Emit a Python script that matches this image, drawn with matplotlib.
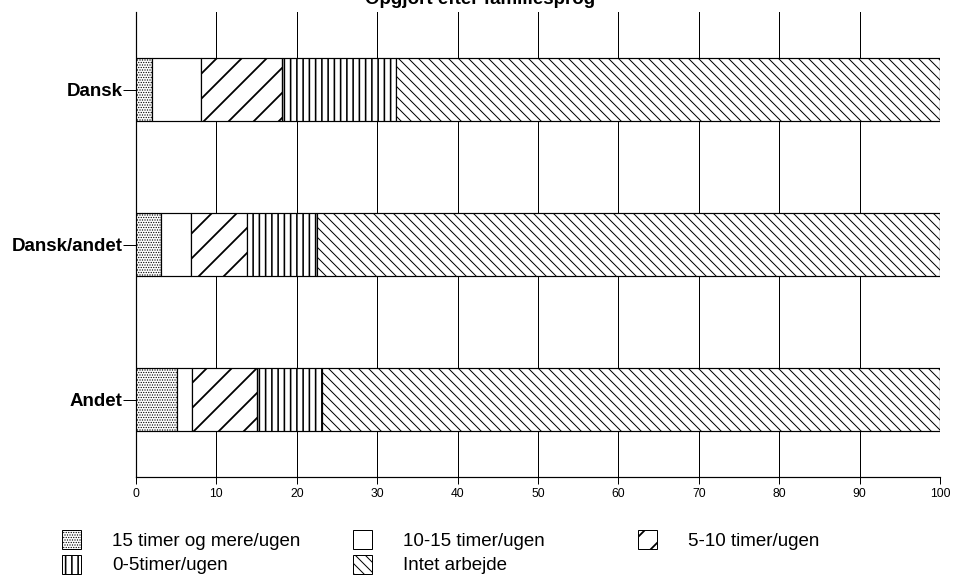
import matplotlib
matplotlib.use("Agg")
import matplotlib.pyplot as plt
from matplotlib.patches import Rectangle
import numpy as np

plt.rcParams['font.family'] = ['Liberation Sans', 'DejaVu Sans']

categories = ["Dansk", "Dansk/andet", "Andet"]
series_labels = ["15 timer og mere/ugen", "10-15 timer/ugen", "5-10 timer/ugen",
                 "0-5timer/ugen", "Intet arbejde"]
v_15plus = [2.0, 3.1, 5.1]
v_10_15 = [6.1, 3.8, 1.9]
v_5_10 = [10.1, 6.9, 8.1]
v_0_5 = [14.2, 8.7, 8.0]
v_none = [67.6, 77.5, 76.9]
values = [v_15plus, v_10_15, v_5_10, v_0_5, v_none]
hatches = ["..........", "", "//", "||||", "\\" * 5]
xticks = [0, 10, 20, 30, 40, 50, 60, 70, 80, 90, 100]
title = "Opgjort efter familiesprog"

DPI = 150
W, H = 953, 584
fig = plt.figure(figsize=(W / DPI, H / DPI), dpi=DPI)
ax = fig.add_axes([136 / W, 1 - 477 / H, (940 - 136) / W, (477 - 12) / H])

px = 72 / DPI  # one pixel in points

y = np.arange(len(categories))
left = np.zeros(len(categories))
hatch_lw = [0.8 * px, 1.0, 1.8 * px, 1.6 * px, 1.0 * px]
for vals, hat, hlw in zip(values, hatches, hatch_lw):
    plt.rcParams['hatch.linewidth'] = hlw
    bars = ax.barh(y, vals, left=left, height=0.41, color="white",
                   edgecolor="black", linewidth=1.2 * px, hatch=hat, zorder=3)
    for b in bars:
        if hasattr(b, "set_hatch_linewidth"):
            b.set_hatch_linewidth(hlw)
    left = left + np.array(vals)

ax.set_xlim(0, 100)
ax.set_ylim(2.5, -0.5)
ax.set_xticks(xticks)
ax.set_xticklabels([str(t) for t in xticks], fontsize=5.8)
ax.set_yticks(y)
ax.set_yticklabels(categories, fontsize=9.0, fontweight="bold")
ax.tick_params(axis="x", length=7 * px, width=1.0 * px, pad=2)
ax.tick_params(axis="y", length=13 * px, width=1.0 * px, pad=0.3)
ax.grid(axis="x", color="black", linewidth=1.0 * px, zorder=0)
ax.set_axisbelow(True)
for s in ["top", "right"]:
    ax.spines[s].set_visible(False)
for s in ["left", "bottom"]:
    ax.spines[s].set_linewidth(1.2 * px)

fig.text(480 / W, 1 - 4 / H, title, ha="center", va="baseline",
         fontsize=9.0, fontweight="bold")

# legend (manual layout)
leg_pos = [(62, 530), (353, 530), (638, 530), (62, 555), (353, 555)]
for (lx, ly), lab, hat, hlw in zip(leg_pos, series_labels, hatches, hatch_lw):
    plt.rcParams['hatch.linewidth'] = hlw
    r = Rectangle((lx / W, 1 - (ly + 19) / H), 19 / W, 19 / H,
                  transform=fig.transFigure, facecolor="white",
                  edgecolor="black", linewidth=1.0 * px, hatch=hat)
    if hasattr(r, "set_hatch_linewidth"):
        r.set_hatch_linewidth(hlw)
    fig.patches.append(r)
    fig.text((lx + 50) / W, 1 - (ly + 11) / H, lab, ha="left", va="center",
             fontsize=9.0)

fig.savefig("out.png", dpi=DPI)
